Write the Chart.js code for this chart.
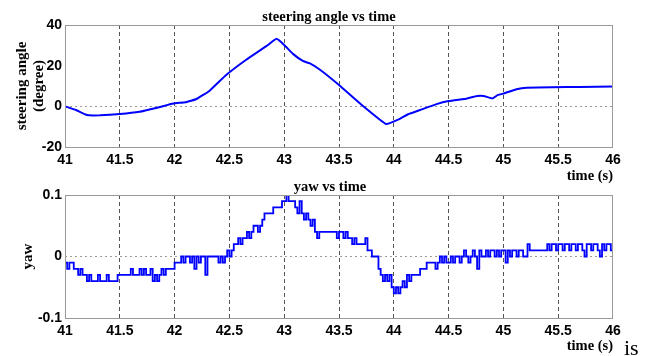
<!DOCTYPE html>
<html>
<head>
<meta charset="utf-8">
<script src="https://cdn.jsdelivr.net/npm/chart.js@4"></script>
<style>
  html, body { margin: 0; padding: 0; background: #fff; }
  #wrap { position: relative; width: 651px; height: 356px; overflow: hidden; }
  canvas { position: absolute; left: 0; }
  .lbl { position: absolute; font-family: "Liberation Serif", "Times New Roman", serif; font-weight: bold; font-size: 14.5px; color: #000; white-space: nowrap; transform: translate(-50%, -50%); }
  .end { transform: translate(-100%, -50%); }
  #isText { position: absolute; left: 624px; top: 337px; font-family: "Liberation Serif", serif; font-size: 22px; line-height: 22px; color: #000; }
</style>
</head>
<body>
<div id="wrap">
  <canvas id="steerChart"></canvas>
  <canvas id="yawChart"></canvas>
  <div class="lbl" style="left:329px; top:16px;">steering angle vs time</div>
  <div class="lbl end" style="left:613px; top:175px;">time (s)</div>
  <div class="lbl" style="left:330px; top:186px;">yaw vs time</div>
  <div class="lbl end" style="left:613px; top:345px;">time (s)</div>
  <div id="isText">is</div>
</div>
<script>
// 时间轴刻度
const timeTicks = [41, 41.5, 42, 42.5, 43, 43.5, 44, 44.5, 45, 45.5, 46];

// 转向角 (degree)
const steerTime = [41.0, 41.1, 41.2, 41.32, 41.5, 41.68, 41.84, 41.93, 42.0, 42.1, 42.2, 42.32, 42.47, 42.65, 42.84, 42.93,
  43.0, 43.08, 43.17, 43.23, 43.33, 43.5, 43.69, 43.93, 44.05, 44.13, 44.24, 44.39, 44.5, 44.67, 44.76, 44.82,
  44.9, 44.95, 45.01, 45.12, 45.21, 45.45, 45.7, 46.0];
const steerAngle = [0, -1.8, -4.3, -4.4, -3.8, -2.7, -0.7, 0.6, 1.5, 2, 3.6, 7.7, 15.4, 22.8, 29.7, 33.2,
  30.2, 25.8, 22.3, 21.2, 17.9, 10.5, 1.5, -8.7, -6.3, -3.9, -1.8, 1.1, 2.6, 3.9, 5.1, 5.1,
  3.9, 5.6, 6.4, 8.4, 9.2, 9.4, 9.5, 9.7];
const steerTicks = [-20, 0, 20, 40];

// yaw 采样：41 s 起，每 0.02 s 一个点，数值单位 0.01
const yawStart = 41;
const yawStep = 0.02;
const yawHundredths = [
  -1, -2, -1, -1, -2,  -2, -3, -2, -3,  -3, -4, -3, -4, -4,
  -4, -3, -4, -4, -4, -3, -4, -4, -4, -4, -3,  -3, -3, -3, -3,
  -3, -2, -3, -3, -3, -2, -3, -2, -3, -3, -2,  -4, -3, -4, -3,
  -2, -3, -2, -2, -2, -2,  -1, -1, -1,  0, -1, 0, 0, -1, 0, -2, 0,
  -1, 0, 0, -3, 0,  0, 0, 0, 0,  -1, 0, -1, 0,  1, 0, 1, 2,
  2, 3, 2, 3,  3, 4, 3, 4,  5, 5, 4, 5,  6, 7, 7, 7, 7,  8, 8, 8, 8,
  9, 9, 10, 9, 9, 9,  8, 7, 9,  7, 6, 7, 6, 5, 6,  4, 3, 4,
  4, 4, 4, 4, 4, 4, 4, 3, 4, 4, 3, 4, 3,  3, 2, 3, 2, 2, 2, 2, 3,
  1, 1, 0, 0, 0,  -2, -3, -4, -3, -4, -3,  -5, -6, -5, -6, -5,  -4, -5, -3, -4,
  -3, -3, -3, -3,  -2, -2, -2,  -1, -1, -1, -1, -2,  -1, 0, -1, 0, -1, -1, 0, -1, 0,
  0, -1, 0, 1, 0, -1,  0, 1, 0, -2, 1, 0, 0,  1, 0, 1, 1, 0, 1, 0, 1, 1,
  -1, 1, 0, 1, 1, 0, 1, 1, 0, 0,  2, 1, 1, 1, 1, 1, 1, 1, 1,
  2, 1, 2, 2, 1, 2, 2, 1, 2, 2, 1, 2, 2, 1, 2, 2, 1, 0, 2, 2, 1, 2, 2, 1, 0, 2, 1, 2, 2, 1, 2
];
const yawTicks = [-0.1, 0, 0.1];

const tickFont = { family: '"Liberation Sans", Arial, sans-serif', size: 14, weight: 'bold' };
const titleFont = { family: '"Liberation Serif", "Times New Roman", serif', size: 15, weight: 'bold', lineHeight: 1.14 };

// 绘图区边框
const frameBox = {
  id: 'frameBox',
  afterDraw(chart) {
    const a = chart.chartArea, c = chart.ctx;
    c.save();
    c.strokeStyle = '#9a9a9a';
    c.lineWidth = 1;
    c.strokeRect(a.left + 0.5, a.top + 0.5, a.right - a.left - 1, a.bottom - a.top);
    c.restore();
  }
};

function makeOptions(yMin, yMax, yTicks, yTitle, titlePad, xHeight) {
  return {
    responsive: false,
    animation: false,
    layout: { padding: { left: 0, right: 38, top: 25, bottom: 0 } },
    plugins: { legend: { display: false }, tooltip: { enabled: false } },
    scales: {
      x: {
        type: 'linear', min: 41, max: 46,
        afterBuildTicks: s => { s.ticks = timeTicks.map(v => ({ value: v })); },
        afterFit: s => { s.height = xHeight; },
        ticks: { font: tickFont, color: '#000', padding: 5, maxRotation: 0, autoSkip: false, callback: v => String(v) },
        grid: {
          drawTicks: false, lineWidth: 1,
          color: c => (c.tick && (c.tick.value === 41 || c.tick.value === 46)) ? 'rgba(0,0,0,0)' : '#555'
        },
        border: { display: false, dash: [4, 3] }
      },
      y: {
        min: yMin, max: yMax,
        afterBuildTicks: s => { s.ticks = yTicks.map(v => ({ value: v })); },
        afterFit: s => { s.width = 65; },
        ticks: { font: tickFont, color: '#000', padding: 3, callback: v => String(v) },
        grid: {
          drawTicks: false, lineWidth: 1,
          color: c => (c.tick && c.tick.value === 0) ? '#9a9a9a' : 'rgba(0,0,0,0)'
        },
        border: { display: false, dash: [2, 3] },
        title: { display: true, text: yTitle, font: titleFont, color: '#000', padding: { top: titlePad, bottom: 0 } }
      }
    }
  };
}

document.addEventListener("DOMContentLoaded", () => {
  // 上图：转向角
  const c1 = document.getElementById("steerChart");
  c1.width = 651; c1.height = 180; c1.style.top = '0px';
  new Chart(c1.getContext("2d"), {
    type: 'line',
    data: {
      datasets: [{
        data: steerTime.map((t, i) => ({ x: t, y: steerAngle[i] })),
        borderColor: '#0000ff', borderWidth: 2, pointRadius: 0, tension: 0.1, fill: false
      }]
    },
    options: makeOptions(-20, 40, steerTicks, ['steering angle', '(degree)'], 13.5, 33),
    plugins: [frameBox]
  });

  // 下图：yaw
  const c2 = document.getElementById("yawChart");
  c2.width = 651; c2.height = 186; c2.style.top = '170px';
  new Chart(c2.getContext("2d"), {
    type: 'line',
    data: {
      datasets: [{
        data: yawHundredths.map((h, i) => ({ x: yawStart + i * yawStep, y: h / 100 })),
        borderColor: '#0000ff', borderWidth: 1.8, pointRadius: 0, stepped: true, fill: false
      }]
    },
    options: makeOptions(-0.1, 0.1, yawTicks, 'yaw', 19.5, 38),
    plugins: [frameBox]
  });
});
</script>
</body>
</html>
